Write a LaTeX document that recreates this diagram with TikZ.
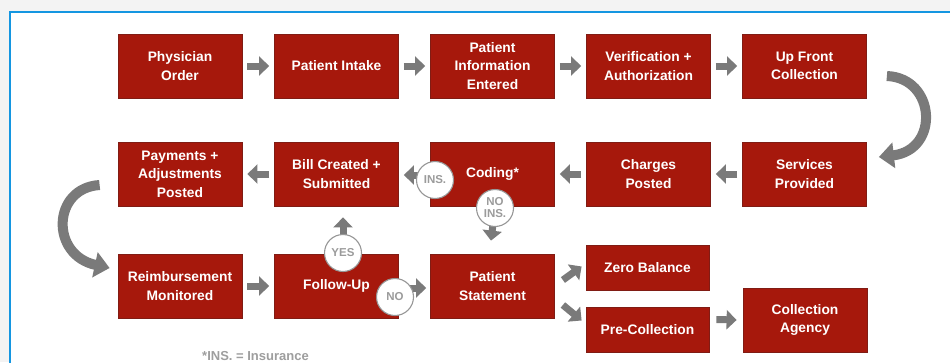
\documentclass[tikz,border=0pt]{standalone}
\usepackage{fontspec}
\setmainfont{Liberation Sans}
\usetikzlibrary{arrows.meta}
\definecolor{boxred}{RGB}{166,24,12}
\definecolor{boxedge}{RGB}{128,28,20}
\definecolor{arrowgray}{RGB}{122,122,122}
\definecolor{ringgray}{RGB}{150,150,150}
\definecolor{framblue}{RGB}{20,150,225}
\definecolor{outside}{RGB}{243,243,243}
\tikzset{
  stepbox/.style={draw=boxedge, line width=0.8pt, fill=boxred, text=white,
    minimum width=124pt, minimum height=64pt, align=center, inner sep=2pt,
    font=\bfseries\fontsize{13.8}{18.5}\selectfont},
  smallbox/.style={stepbox, minimum width=123pt, minimum height=45pt},
  flow/.style={draw=arrowgray, line width=7pt, -{Triangle[width=19pt,length=10pt]}},
  bigturn/.style={draw=arrowgray, line width=10pt, -{Triangle[width=25pt,length=15pt]}},
  decision/.style={circle, draw=ringgray, line width=1.1pt, fill=white, text=arrowgray!75,
    minimum size=37pt, inner sep=0pt, align=center,
    font=\bfseries\fontsize{11.5}{12}\selectfont},
  note/.style={text=black!38, font=\bfseries\fontsize{13}{15}\selectfont, inner sep=0pt}
}
\begin{document}
\begin{tikzpicture}[x=1pt,y=-1pt]
  % page and frame
  \fill[outside] (0,0) rectangle (950,362);
  \useasboundingbox (0,0) rectangle (950,362);
  \draw[framblue, line width=2pt, fill=white] (10,12) rectangle (960,372);

  % first row
  \node[stepbox] (po)  at (180,66)   {Physician\\Order};
  \node[stepbox] (pi)  at (336.5,66) {Patient Intake};
  \node[stepbox] (pie) at (492.5,66) {Patient\\Information\\Entered};
  \node[stepbox] (va)  at (648.5,66) {Verification +\\Authorization};
  \node[stepbox] (ufc) at (804.5,66) {Up Front\\Collection};

  % second row
  \node[stepbox] (pay)  at (180,174)   {Payments +\\Adjustments\\Posted};
  \node[stepbox] (bill) at (336.5,174) {Bill Created +\\Submitted};
  \node[stepbox] (cod)  at (492.5,174) {Coding*};
  \node[stepbox] (cp)   at (648.5,174) {Charges\\Posted};
  \node[stepbox] (sp)   at (804.5,174) {Services\\Provided};

  % third row
  \node[stepbox] (rm) at (180,286)   {Reimbursement\\Monitored};
  \node[stepbox] (fu) at (336.5,286) {Follow-Up};
  \node[stepbox] (ps) at (492.5,286) {Patient\\Statement};
  \node[smallbox] (zb) at (647.5,267.5) {Zero Balance};
  \node[smallbox] (pc) at (647.5,329.5) {Pre-Collection};
  \node[stepbox] (ca) at (805,320)      {Collection\\Agency};

  % straight flow arrows
  \draw[flow] ([xshift=5pt]po.east)  -- ([xshift=-5pt]pi.west);
  \draw[flow] ([xshift=5pt]pi.east)  -- ([xshift=-5pt]pie.west);
  \draw[flow] ([xshift=5pt]pie.east) -- ([xshift=-5pt]va.west);
  \draw[flow] ([xshift=5pt]va.east)  -- ([xshift=-5pt]ufc.west);
  \draw[flow] ([xshift=-5pt]sp.west) -- ([xshift=5pt]cp.east);
  \draw[flow] ([xshift=-5pt]cp.west) -- ([xshift=5pt]cod.east);
  \draw[flow] ([xshift=-5pt]bill.west) -- ([xshift=5pt]pay.east);
  \draw[flow] ([xshift=5pt]rm.east)  -- ([xshift=-5pt]fu.west);
  \draw[flow] ([xshift=8pt,yshift=6pt]ps.east)   -- ([xshift=-4pt,yshift=1pt]zb.west);
  \draw[flow] ([xshift=8pt,yshift=-19pt]ps.east) -- ([xshift=-4pt,yshift=9pt]pc.west);
  \draw[flow] ([xshift=7pt,yshift=10pt]pc.east)  -- ([xshift=-6pt]ca.west);

  % turns between rows
  \draw[bigturn] ([xshift=20pt,yshift=-10pt]ufc.east)
    .. controls (936,78) and (940,150) .. ([xshift=12pt,yshift=17pt]sp.east);
  \draw[bigturn] ([xshift=-18pt,yshift=-11pt]pay.west)
    .. controls (52,188) and (50,255) .. ([xshift=-8pt,yshift=18pt]rm.west);

  % decision branches
  \coordinate (insc)   at (435,180);
  \coordinate (noinsc) at (495,208);
  \coordinate (yesc)   at (343,253);
  \coordinate (noc)    at (395,297);
  \draw[flow] ([yshift=5pt]insc) -- ([xshift=5pt,yshift=-1pt]bill.east);
  \draw[flow] (noinsc) -- ([xshift=-1.5pt,yshift=13pt]ps.north);
  \draw[flow] (yesc) -- ([xshift=6.5pt,yshift=-11pt]bill.south);
  \draw[flow] ([xshift=5pt,yshift=9pt]noc) -- ([xshift=-4pt,yshift=-2pt]ps.west);
  \node[decision] (ins)   at (insc)   {INS.};
  \node[decision] (noins) at (noinsc) {NO\\INS.};
  \node[decision] (yes)   at (yesc)   {YES};
  \node[decision] (no)    at (noc)    {NO};

  % footnote
  \node[note, anchor=base west] (fn) at (202,360) {*INS. = Insurance};
\end{tikzpicture}
\end{document}
